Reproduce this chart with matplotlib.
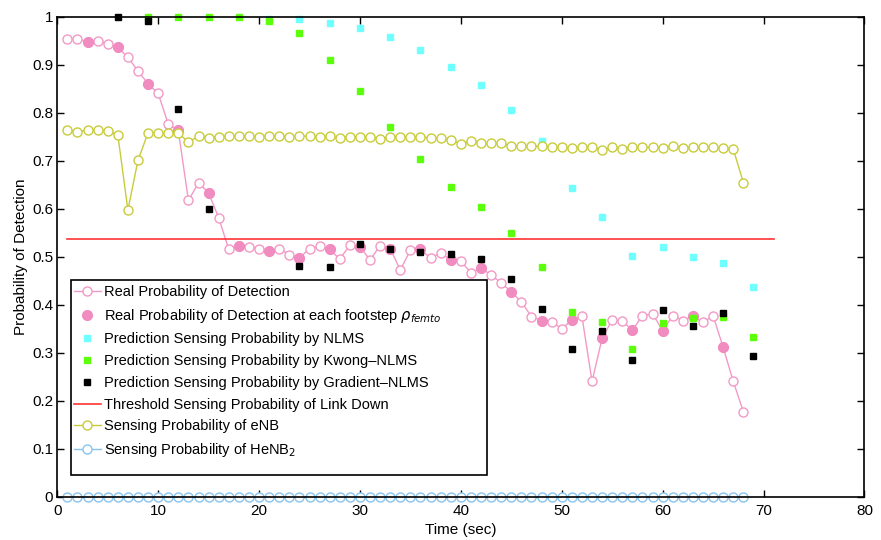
import numpy as np
import matplotlib.pyplot as plt
from matplotlib.patches import Rectangle
from matplotlib.ticker import FuncFormatter

plt.rcParams["font.family"] = ["Liberation Sans", "DejaVu Sans"]

# Data
t = np.arange(1, 69)

real_prob = [
    0.953, 0.953, 0.948, 0.950, 0.943, 0.936, 0.915, 0.887, 0.860, 0.840,
    0.776, 0.763, 0.617, 0.654, 0.633, 0.581, 0.515, 0.522, 0.521, 0.517,
    0.512, 0.517, 0.504, 0.497, 0.517, 0.522, 0.515, 0.495, 0.524, 0.521,
    0.493, 0.523, 0.517, 0.472, 0.514, 0.515, 0.497, 0.508, 0.493, 0.490,
    0.467, 0.476, 0.462, 0.445, 0.427, 0.406, 0.375, 0.367, 0.364, 0.350,
    0.368, 0.376, 0.240, 0.330, 0.368, 0.366, 0.347, 0.377, 0.381, 0.346,
    0.377, 0.367, 0.376, 0.363, 0.377, 0.311, 0.240, 0.177,
]

enb_prob = [
    0.763, 0.760, 0.764, 0.763, 0.762, 0.754, 0.597, 0.701, 0.758, 0.757,
    0.757, 0.757, 0.739, 0.751, 0.747, 0.750, 0.751, 0.751, 0.751, 0.750,
    0.751, 0.751, 0.750, 0.751, 0.751, 0.750, 0.751, 0.747, 0.750, 0.750,
    0.750, 0.746, 0.749, 0.750, 0.750, 0.750, 0.747, 0.747, 0.743, 0.735,
    0.740, 0.736, 0.736, 0.736, 0.731, 0.730, 0.730, 0.730, 0.728, 0.728,
    0.727, 0.728, 0.729, 0.722, 0.728, 0.724, 0.729, 0.728, 0.728, 0.727,
    0.731, 0.727, 0.729, 0.729, 0.728, 0.726, 0.724, 0.654,
]

henb_prob = [0.0] * 68

# footstep samples (every 3 sec)
step_t = np.arange(3, 67, 3)
step_prob = [real_prob[i - 1] for i in step_t]

nlms_t = np.arange(21, 70, 3)
nlms = [0.995, 0.995, 0.986, 0.976, 0.958, 0.931, 0.896, 0.857, 0.806,
        0.740, 0.642, 0.583, 0.502, 0.521, 0.499, 0.486, 0.436]

kwong_t = np.arange(9, 70, 3)
kwong = [1.0, 1.0, 1.0, 1.0, 0.990, 0.965, 0.910, 0.845, 0.770, 0.703,
         0.646, 0.604, 0.549, 0.478, 0.385, 0.363, 0.307, 0.361, 0.372,
         0.375, 0.333]

grad_t = [6, 9, 12, 15, 24, 27, 30, 33, 36, 39, 42, 45, 48, 51, 54, 57,
          60, 63, 66, 69]
grad = [1.0, 0.990, 0.808, 0.599, 0.481, 0.478, 0.526, 0.516, 0.510,
        0.506, 0.495, 0.453, 0.390, 0.307, 0.345, 0.285, 0.389, 0.356,
        0.382, 0.293]

threshold = 0.537
threshold_t = [1, 71]

# Plot
fig = plt.figure(figsize=(8.81, 5.40), dpi=100)
ax = fig.add_axes([0.065, 0.0802, 0.9162, 0.889])

pink = "#f29ac6"
l1, = ax.plot(t, real_prob, "-o", color=pink, mfc="white", mec=pink,
              ms=6.5, lw=1.0, mew=1.0, clip_on=False)
l2, = ax.plot(step_t, step_prob, "o", color="#f08cc0", ms=7, clip_on=False)
l3, = ax.plot(nlms_t, nlms, "s", color="#70ffff", ms=5, clip_on=False)
l4, = ax.plot(kwong_t, kwong, "s", color="#5cff0a", ms=5, clip_on=False)
l5, = ax.plot(grad_t, grad, "s", color="black", ms=5, clip_on=False)
l6, = ax.plot(threshold_t, [threshold, threshold], "-", color="#ff3333",
              lw=1.2)
l7, = ax.plot(t, enb_prob, "-o", color="#c8cc3a", mfc="white",
              mec="#c8cc3a", ms=6.5, lw=1.0, mew=1.0, clip_on=False)
l8, = ax.plot(t, henb_prob, "-o", color="#88c4ee", mfc="white",
              mec="#88c4ee", ms=6.5, lw=1.0, mew=1.0, clip_on=False)

# Formatting
ax.set_xlim(0, 80)
ax.set_ylim(0, 1)
ax.set_xticks(np.arange(0, 81, 10))
ax.set_yticks(np.arange(0, 1.01, 0.1))
ax.yaxis.set_major_formatter(FuncFormatter(lambda v, p: f"{v:g}"))
ax.tick_params(direction="in", top=True, right=True, length=5,
               labelsize=11, width=1)
ax.tick_params(axis="x", pad=5)
ax.tick_params(axis="y", pad=3)
for s in ax.spines.values():
    s.set_linewidth(1.2)

ax.set_xlabel("Time (sec)", fontsize=11, labelpad=4)
ax.set_ylabel("Probability of Detection", fontsize=11, labelpad=3)

labels = [
    "Real Probability of Detection",
    r"Real Probability of Detection at each footstep $\rho_{femto}$",
    "Prediction Sensing Probability by NLMS",
    "Prediction Sensing Probability by Kwong\u2013NLMS",
    "Prediction Sensing Probability by Gradient\u2013NLMS",
    "Threshold Sensing Probability of Link Down",
    "Sensing Probability of eNB",
    r"Sensing Probability of HeNB$_2$",
]
leg = ax.legend(
    [l1, l2, l3, l4, l5, l6, l7, l8], labels,
    loc="upper left", bbox_to_anchor=(0.0207, 0.441),
    fontsize=10.5, numpoints=1, handlelength=1.85, handletextpad=0.2,
    borderpad=0, labelspacing=0.53, borderaxespad=0, frameon=False,
)

# legend box (wider than the entries, as in the original figure)
ax.add_patch(Rectangle((0.017, 0.0452), 0.5153, 0.4063,
                       transform=ax.transAxes, fill=True, facecolor="white",
                       edgecolor="black", lw=1.2, zorder=4))
leg.set_zorder(5)

plt.savefig("out.png", dpi=100)
